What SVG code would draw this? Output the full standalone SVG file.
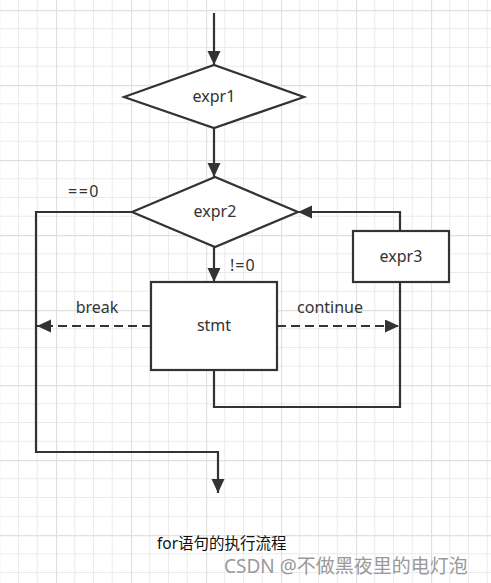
<svg xmlns="http://www.w3.org/2000/svg" width="491" height="583" viewBox="0 0 491 583">
  <defs>
    <pattern id="grid" x="56" y="10" width="75" height="75" patternUnits="userSpaceOnUse">
      <path d="M18.75,0 V75 M37.5,0 V75 M56.25,0 V75 M0,18.75 H75 M0,37.5 H75 M0,56.25 H75" stroke="#ebebeb" stroke-width="1" fill="none"/>
      <path d="M0.5,0 V75 M0,0.5 H75" stroke="#e0e0e0" stroke-width="1.3" fill="none"/>
    </pattern>
    <marker id="arrow" markerUnits="userSpaceOnUse" markerWidth="15" markerHeight="14" refX="14" refY="6.5" orient="auto">
      <path d="M0,0 L14,6.5 L0,13 z" fill="#333"/>
    </marker>
    <style>
      .shape { fill: #fff; stroke: #333; stroke-width: 2.2; }
      .conn { fill: none; stroke: #333; stroke-width: 2.2; }
      .dash { stroke-dasharray: 9 5; }
      .lbl { font-family: "Noto Sans", "Open Sans", "Noto Sans CJK SC", sans-serif; font-size: 16px; fill: #333; }
      .mid { text-anchor: middle; }
    </style>
  </defs>
  <rect x="0" y="0" width="491" height="583" fill="#fff"/>
  <rect x="0" y="0" width="491" height="583" fill="url(#grid)"/>

  <g id="connectors">
    <path class="conn" d="M214,13 V65" marker-end="url(#arrow)"/>
    <path class="conn" d="M214,128 V177" marker-end="url(#arrow)"/>
    <path class="conn" d="M214,247 V282" marker-end="url(#arrow)"/>
    <path class="conn" d="M400,231 V212 H298" marker-end="url(#arrow)"/>
    <path class="conn" d="M214,370 V407 H400 V282"/>
    <path class="conn" d="M132,212 H36 V452 H218 V493" marker-end="url(#arrow)"/>
    <path class="conn dash" d="M151,326 H37" marker-end="url(#arrow)"/>
    <path class="conn dash" d="M277,326 H399" marker-end="url(#arrow)"/>
    <text class="lbl" x="68" y="197" letter-spacing="1.5">==0</text>
    <text class="lbl" x="230" y="271" letter-spacing="1">!=0</text>
    <text class="lbl mid" x="97" y="313">break</text>
    <text class="lbl mid" x="330" y="313">continue</text>
  </g>

  <g id="expr1">
    <polygon class="shape" points="124,97 214,65 304,97 214,128"/>
    <text class="lbl mid" x="214" y="102">expr1</text>
  </g>
  <g id="expr2">
    <polygon class="shape" points="132,212 215,177 298,212 215,247"/>
    <text class="lbl mid" x="215" y="217">expr2</text>
  </g>
  <g id="stmt">
    <rect class="shape" x="151" y="282" width="126" height="88"/>
    <text class="lbl mid" x="214" y="331">stmt</text>
  </g>
  <g id="expr3">
    <rect class="shape" x="353" y="231" width="96" height="51"/>
    <text class="lbl mid" x="401" y="262">expr3</text>
  </g>

  <text x="157" y="549" font-family="Noto Sans, Noto Sans CJK SC, sans-serif" font-size="15.5" fill="#111">for语句的执行流程</text>
  <text x="224" y="573" font-family="Noto Sans, Noto Sans CJK SC, sans-serif" font-size="19" fill="#9a9a9a">CSDN @不做黑夜里的电灯泡</text>
</svg>
